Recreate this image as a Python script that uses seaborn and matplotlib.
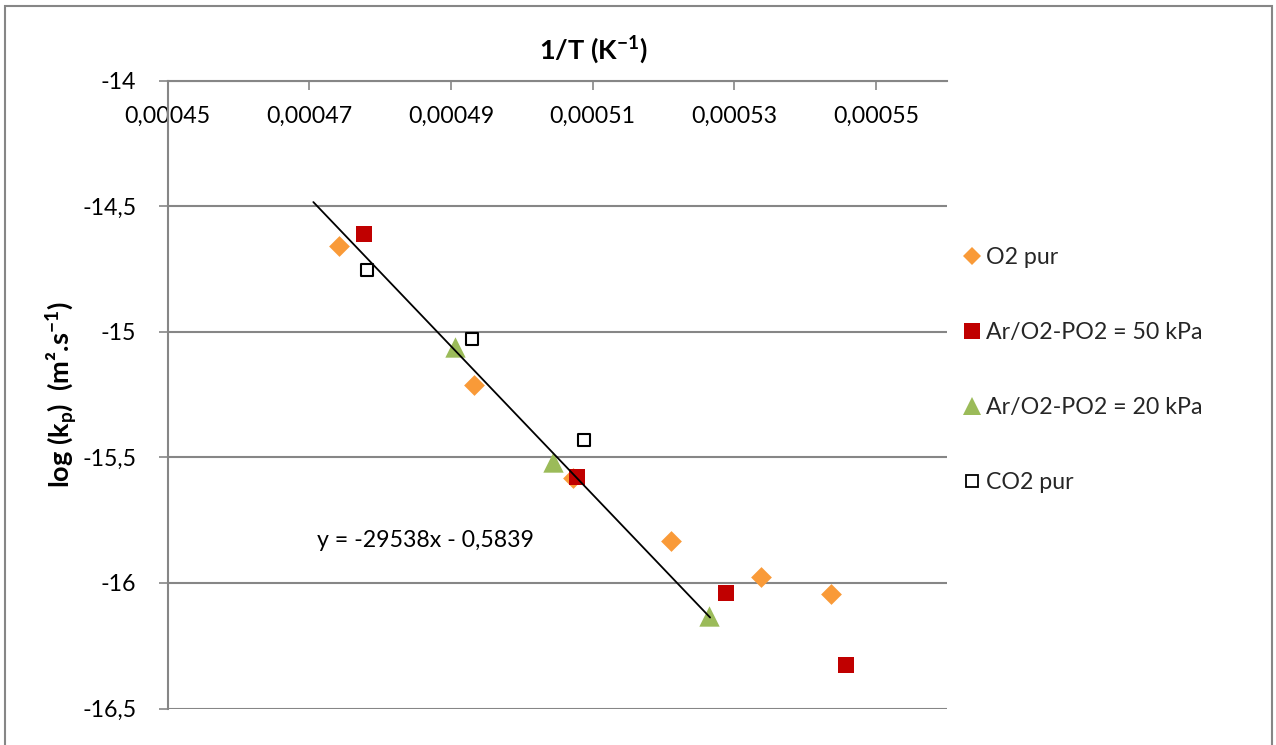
import matplotlib
matplotlib.use("Agg")
import matplotlib.pyplot as plt
import seaborn as sns
import pandas as pd
from matplotlib.patches import Rectangle
from matplotlib.lines import Line2D

# ---------------- data ----------------
series_names = ["O2 pur", "Ar/O2-PO2 = 50 kPa", "Ar/O2-PO2 = 20 kPa", "CO2 pur"]

o2_x = [0.00047425, 0.00049326, 0.00050719, 0.00052102, 0.00053377, 0.00054365]
o2_y = [-14.660, -15.212, -15.584, -15.832, -15.975, -16.044]

ar50_x = [0.00047769, 0.00050784, 0.00052879, 0.00054572]
ar50_y = [-14.610, -15.580, -16.041, -16.327]

ar20_x = [0.00049058, 0.00050445, 0.00052647]
ar20_y = [-15.061, -15.518, -16.132]

co2_x = [0.00047812, 0.00049302, 0.00050883]
co2_y = [-14.754, -15.029, -15.431]

trend_slope = -29538
trend_intercept = -0.5839
trend_x = [0.00047058, 0.00052657]

x_ticks = [0.00045, 0.00047, 0.00049, 0.00051, 0.00053, 0.00055]
x_ticklabels = ["0,00045", "0,00047", "0,00049", "0,00051", "0,00053", "0,00055"]
y_ticks = [-14, -14.5, -15, -15.5, -16, -16.5]
y_ticklabels = ["-14", "-14,5", "-15", "-15,5", "-16", "-16,5"]

x_title = r"1/T (K$^{\mathbf{-1}}$)"
y_title = r"log (k$_{\mathbf{p}}$)  (m².s$^{\mathbf{-1}}$)"

# ---------------- style ----------------
sns.set_theme(style="white")
FONT = "Lato"
plt.rcParams["font.family"] = [FONT, "DejaVu Sans"]
plt.rcParams["mathtext.fontset"] = "custom"
plt.rcParams["mathtext.rm"] = FONT
plt.rcParams["mathtext.bf"] = FONT + ":bold"
plt.rcParams["mathtext.it"] = FONT + ":italic"
plt.rcParams["axes.unicode_minus"] = False

GRID = "#868686"
ORANGE = "#F99A38"
RED = "#C00000"
GREEN = "#9BBB59"

TXT = 16.7     # tick / legend / equation size
TTL = 19.5     # axis titles

W, H = 1276, 745
fig = plt.figure(figsize=(W / 100, H / 100), dpi=100)
ax = fig.add_axes([167.5 / W, 1 - 708.5 / H, (947 - 167.5) / W, (708.5 - 80.5) / H])

# ---------------- marks ----------------
d_o2 = pd.DataFrame({"x": o2_x, "y": o2_y})
d_a50 = pd.DataFrame({"x": ar50_x, "y": ar50_y})
d_a20 = pd.DataFrame({"x": ar20_x, "y": ar20_y})
d_co2 = pd.DataFrame({"x": co2_x, "y": co2_y})

sns.scatterplot(data=d_o2, x="x", y="y", ax=ax, marker="D", s=112, color=ORANGE,
                linewidth=0, zorder=3)
sns.scatterplot(data=d_a50, x="x", y="y", ax=ax, marker="s", s=120, color=RED,
                linewidth=0, zorder=4)
sns.scatterplot(data=d_a20, x="x", y="y", ax=ax, marker="^", s=215, color=GREEN,
                linewidth=0, zorder=5)
sns.scatterplot(data=d_co2, x="x", y="y", ax=ax, marker="s", s=78, color="white",
                edgecolor="black", linewidth=1.5, zorder=6)

d_tr = pd.DataFrame({"x": trend_x,
                     "y": [trend_slope * v + trend_intercept for v in trend_x]})
sns.lineplot(data=d_tr, x="x", y="y", ax=ax, color="black", linewidth=1.3, zorder=7)

eq = f"y = {trend_slope}x - {abs(trend_intercept):.4f}".replace(".", ",")
ax.text(0.0004711, -15.833, eq, ha="left", va="center", fontsize=TXT, color="black")

# ---------------- axes ----------------
ax.set_xlim(0.00045, 0.00056)
ax.set_ylim(-16.5, -14)
ax.set_xticks(x_ticks)
ax.set_xticklabels(x_ticklabels)
ax.set_yticks(y_ticks)
ax.set_yticklabels(y_ticklabels)

ax.grid(False)
ax.yaxis.grid(True, color=GRID, linewidth=1.5)
ax.set_axisbelow(True)

for side in ["right", "bottom"]:
    ax.spines[side].set_visible(False)
for side in ["left", "top"]:
    ax.spines[side].set_color(GRID)
    ax.spines[side].set_linewidth(1.5)

ax.tick_params(axis="x", which="both", top=True, labeltop=True, bottom=False,
               labelbottom=False, direction="in", length=6.5, width=1.2,
               color=GRID, pad=-33.2, labelsize=TXT, labelcolor="black")
ax.tick_params(axis="y", which="both", left=True, direction="out", length=6.5,
               width=1.2, color=GRID, pad=16, labelsize=TXT, labelcolor="black")

ax.set_xlabel("")
ax.set_ylabel(y_title, fontsize=TTL, fontweight="bold", color="black")
ax.yaxis.set_label_coords(-0.112, 0.5)

fig.text(593 / W, 1 - 50 / H, x_title, ha="center", va="center",
         fontsize=TTL, fontweight="bold", color="black")

# ---------------- legend ----------------
handles = [
    Line2D([], [], linestyle="none", marker="D", markersize=9, color=ORANGE, markeredgewidth=0),
    Line2D([], [], linestyle="none", marker="s", markersize=11.4, color=RED, markeredgewidth=0),
    Line2D([], [], linestyle="none", marker="^", markersize=13, color=GREEN, markeredgewidth=0),
    Line2D([], [], linestyle="none", marker="s", markersize=8.5, markerfacecolor="white",
           markeredgecolor="black", markeredgewidth=1.3),
]
fig.legend(handles, series_names, loc="upper left", bbox_to_anchor=(963 / W, 1 - 247 / H),
           frameon=False, fontsize=TXT, handlelength=0.75, handletextpad=0.25,
           labelspacing=2.33, borderaxespad=0, borderpad=0)

# ---------------- chart border ----------------
fig.patches.append(Rectangle((5 / W, -0.05), (1272 - 5) / W, 1 - 6 / H + 0.05,
                             transform=fig.transFigure, fill=False,
                             edgecolor=GRID, linewidth=1.5, zorder=-1))

fig.savefig("out.png", dpi=100)
